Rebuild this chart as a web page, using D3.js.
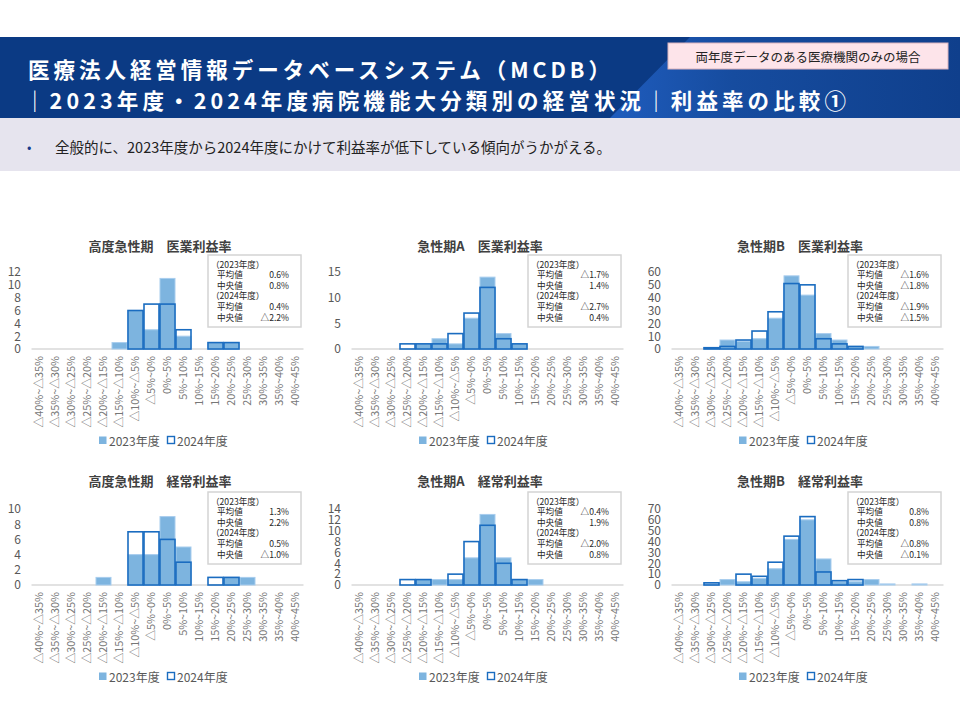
<!DOCTYPE html>
<html>
<head>
<meta charset="utf-8">
<script src="https://cdn.jsdelivr.net/npm/d3@7"></script>
<style>
  body { margin: 0; background: #fff; }
  svg { display: block; font-family: "Noto Sans CJK JP", "Noto Sans", sans-serif; }
</style>
</head>
<body>
<div id="chart"></div>
<script>
const W = 960, H = 720;

const categories = ["△40%~△35%", "△35%~△30%", "△30%~△25%", "△25%~△20%", "△20%~△15%", "△15%~△10%",
  "△10%~△5%", "△5%~0%", "0%~5%", "5%~10%", "10%~15%", "15%~20%", "20%~25%", "25%~30%",
  "30%~35%", "35%~40%", "40%~45%"];
const years = ["2023年度", "2024年度"];

const titles = ["高度急性期　医業利益率", "急性期A　医業利益率", "急性期B　医業利益率",
  "高度急性期　経常利益率", "急性期A　経常利益率", "急性期B　経常利益率"];

// counts of hospitals per bin
const hqOp2023 = [0,0,0,0,0,1,6,3,11,2,0,1,1,0,0,0,0];
const hqOp2024 = [0,0,0,0,0,0,6,7,7,3,0,1,1,0,0,0,0];
const aOp2023  = [0,0,0,0,1,2,1,6,14,3,1,0,0,0,0,0,0];
const aOp2024  = [0,0,0,1,1,1,3,7,12,2,1,0,0,0,0,0,0];
const bOp2023  = [0,0,1,7,6,8,24,57,42,12,7,2,2,0,0,0,0];
const bOp2024  = [0,0,1,2,7,14,29,51,50,8,4,2,0,0,0,0,0];
const hqOrd2023 = [0,0,0,0,1,0,4,4,9,5,0,0,1,1,0,0,0];
const hqOrd2024 = [0,0,0,0,0,0,7,7,6,3,0,1,1,0,0,0,0];
const aOrd2023  = [0,0,0,0,1,1,1,5,13,5,1,1,0,0,0,0,0];
const aOrd2024  = [0,0,0,1,1,0,2,8,11,4,1,0,0,0,0,0,0];
const bOrd2023  = [0,0,1,5,3,6,15,42,60,24,3,3,5,1,0,1,0];
const bOrd2024  = [0,0,2,0,10,8,21,45,63,12,4,5,0,0,0,0,0];

const yMax  = [12, 15, 60, 10, 14, 70];
const yStep = [2, 5, 10, 2, 2, 10];

// 平均値 / 中央値 for each year
const mean2023   = ["0.6%", "△1.7%", "△1.6%", "1.3%", "△0.4%", "0.8%"];
const median2023 = ["0.8%", "1.4%", "△1.8%", "2.2%", "1.9%", "0.8%"];
const mean2024   = ["0.4%", "△2.7%", "△1.9%", "0.5%", "△2.0%", "△0.8%"];
const median2024 = ["△2.2%", "0.4%", "△1.5%", "△1.0%", "0.8%", "△0.1%"];

const series2023 = [hqOp2023, aOp2023, bOp2023, hqOrd2023, aOrd2023, bOrd2023];
const series2024 = [hqOp2024, aOp2024, bOp2024, hqOrd2024, aOrd2024, bOrd2024];

const fill23 = "#7db4df", edge23 = "#a8cdee", line24 = "#1a6cc0";
const axisGray = "#595959";

const svg = d3.select("#chart").append("svg")
  .attr("width", W).attr("height", H)
  .attr("viewBox", [0, 0, W, H]);

// ---- header ----
const defs = svg.append("defs");
const grad = defs.append("linearGradient").attr("id", "bannerGrad")
  .attr("x1", "0%").attr("x2", "100%");
grad.append("stop").attr("offset", "0%").attr("stop-color", "#1f5cbd");
grad.append("stop").attr("offset", "35%").attr("stop-color", "#164c9f");
grad.append("stop").attr("offset", "100%").attr("stop-color", "#0f3f8c");

svg.append("rect").attr("x", 0).attr("y", 37).attr("width", W).attr("height", 81).attr("fill", "#0b3a84");
svg.append("path").attr("d", "M690,37 L960,37 L960,118 L610,118 Z").attr("fill", "url(#bannerGrad)");

svg.append("text").attr("x", 28).attr("y", 78)
  .attr("fill", "#fff").attr("font-size", 21.5).attr("font-weight", 700)
  .attr("textLength", 582).attr("lengthAdjust", "spacing")
  .text("医療法人経営情報データベースシステム（MCDB）");
svg.append("text").attr("x", 24).attr("y", 109)
  .attr("fill", "#fff").attr("font-size", 21.5).attr("font-weight", 700)
  .attr("textLength", 822).attr("lengthAdjust", "spacing")
  .text("｜2023年度・2024年度病院機能大分類別の経営状況｜利益率の比較①");

svg.append("rect").attr("x", 668).attr("y", 43).attr("width", 280).attr("height", 26)
  .attr("fill", "#fde4ea").attr("stroke", "#d9b3bd").attr("stroke-width", 1);
svg.append("text").attr("x", 808).attr("y", 56).attr("text-anchor", "middle")
  .attr("dominant-baseline", "central").attr("font-size", 12.5).attr("fill", "#222")
  .text("両年度データのある医療機関のみの場合");

svg.append("rect").attr("x", 0).attr("y", 118).attr("width", W).attr("height", 53).attr("fill", "#e6e4ee");
svg.append("text").attr("x", 27).attr("y", 146).attr("dominant-baseline", "central")
  .attr("font-size", 13).attr("fill", "#1a3a8a").text("•");
svg.append("text").attr("x", 55).attr("y", 146).attr("dominant-baseline", "central")
  .attr("font-size", 14.5).attr("fill", "#222")
  .text("全般的に、2023年度から2024年度にかけて利益率が低下している傾向がうかがえる。");

// ---- panels ----
const colX = [0, 320, 640];
const rows = [
  { titleY: 245, top: 272, bottom: 349, boxY: 255, legendY: 440 },
  { titleY: 480, top: 509, bottom: 585, boxY: 492, legendY: 676 }
];

function drawPanel(i) {
  const row = rows[Math.floor(i / 3)];
  const g = svg.append("g").attr("transform", `translate(${colX[i % 3]},0)`);

  const x = d3.scaleBand().domain(categories).range([31.5, 303.5]).padding(0);
  const y = d3.scaleLinear().domain([0, yMax[i]]).range([row.bottom, row.top]);

  g.append("text").attr("x", 160).attr("y", row.titleY).attr("text-anchor", "middle")
    .attr("dominant-baseline", "central").attr("font-size", 13).attr("font-weight", 700)
    .attr("fill", "#404040").text(titles[i]);

  // y axis labels
  const yAxis = d3.axisLeft(y).tickValues(d3.range(0, yMax[i] + 0.01, yStep[i])).tickSize(0).tickPadding(0);
  const ya = g.append("g").attr("transform", "translate(21,0)").call(yAxis);
  ya.select(".domain").remove();
  ya.selectAll("text").attr("font-size", 12).attr("fill", axisGray).attr("font-family", "Noto Sans CJK JP");

  // baseline
  g.append("line").attr("x1", 31.5).attr("x2", 303.5).attr("y1", row.bottom).attr("y2", row.bottom)
    .attr("stroke", "#d9d9d9").attr("stroke-width", 1.5);

  // 2023 filled bars
  g.append("g").selectAll("rect").data(series2023[i].map((v, k) => ({ c: categories[k], v })).filter(d => d.v > 0))
    .join("rect")
    .attr("x", d => x(d.c) + 0.5).attr("width", x.bandwidth() - 1)
    .attr("y", d => y(d.v)).attr("height", d => row.bottom - y(d.v))
    .attr("fill", fill23).attr("stroke", edge23).attr("stroke-width", 1);

  // 2024 outline bars
  g.append("g").selectAll("rect").data(series2024[i].map((v, k) => ({ c: categories[k], v })).filter(d => d.v > 0))
    .join("rect")
    .attr("x", d => x(d.c) + 0.5).attr("width", x.bandwidth() - 1)
    .attr("y", d => y(d.v)).attr("height", d => row.bottom - y(d.v))
    .attr("fill", "none").attr("stroke", line24).attr("stroke-width", 1.6);

  // x labels (rotated)
  const xAxis = d3.axisBottom(x).tickSize(0).tickPadding(0);
  const xa = g.append("g").attr("transform", `translate(0,${row.bottom + 7})`).call(xAxis);
  xa.select(".domain").remove();
  xa.selectAll("text")
    .attr("font-size", 10.8).attr("fill", "#777").attr("font-family", "Noto Sans CJK JP")
    .attr("transform", "rotate(-90)").attr("text-anchor", "end")
    .attr("x", 0).attr("y", 0).attr("dy", "0.35em");

  // stats box
  const bx = 208, by = row.boxY;
  g.append("rect").attr("x", bx).attr("y", by).attr("width", 93).attr("height", 72)
    .attr("fill", "#fff").attr("stroke", "#d4d4d4").attr("stroke-width", 1.5);
  const lines = [
    ["（2023年度）", ""], ["平均値", mean2023[i]], ["中央値", median2023[i]],
    ["（2024年度）", ""], ["平均値", mean2024[i]], ["中央値", median2024[i]]
  ];
  lines.forEach((l, k) => {
    const ly = by + 8.5 + k * 10.6;
    g.append("text").attr("x", l[1] === "" ? bx + 3 : bx + 9).attr("y", ly)
      .attr("dominant-baseline", "central").attr("font-size", 8.6).attr("fill", "#262626").text(l[0]);
    if (l[1]) g.append("text").attr("x", bx + 81).attr("y", ly).attr("text-anchor", "end")
      .attr("dominant-baseline", "central").attr("font-size", 8.6).attr("fill", "#262626").text(l[1]);
  });

  // legend
  const ly = row.legendY;
  g.append("rect").attr("x", 99).attr("y", ly - 3.5).attr("width", 7.5).attr("height", 7.5).attr("fill", fill23);
  g.append("text").attr("x", 109).attr("y", ly).attr("dominant-baseline", "central")
    .attr("font-size", 12).attr("fill", axisGray).text(years[0]);
  g.append("rect").attr("x", 167.5).attr("y", ly - 3.5).attr("width", 7).attr("height", 7)
    .attr("fill", "none").attr("stroke", line24).attr("stroke-width", 1.4);
  g.append("text").attr("x", 177).attr("y", ly).attr("dominant-baseline", "central")
    .attr("font-size", 12).attr("fill", axisGray).text(years[1]);
}

d3.range(6).forEach(drawPanel);
</script>
</body>
</html>
